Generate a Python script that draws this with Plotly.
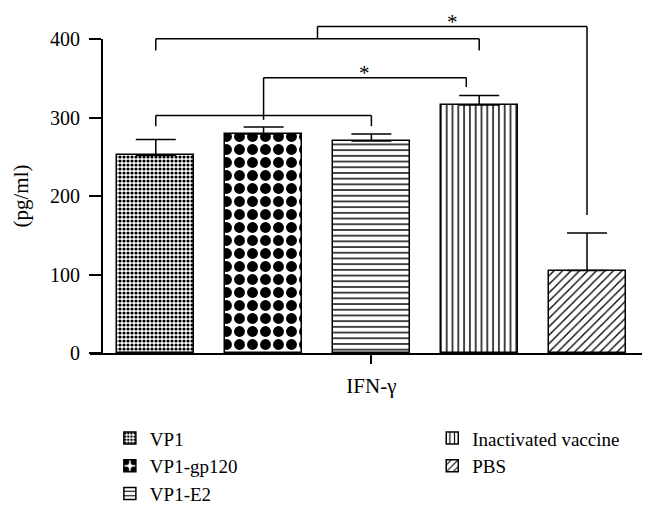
import plotly.graph_objects as go

# ---- data ----
groups = ["VP1", "VP1-gp120", "VP1-E2", "Inactivated vaccine", "PBS"]
values = [252, 279, 270, 316, 105]
errors = [20, 9, 9, 12, 48]
category_label = "IFN-γ"
y_ticks = [0, 100, 200, 300, 400]

# ---- styles ----
patterns = [
    dict(shape=".", size=4, solidity=0.5),
    dict(shape=".", size=13, solidity=0.55),
    dict(shape="-", size=5.7, solidity=0.25),
    dict(shape="|", size=5.8, solidity=0.25),
    dict(shape="/", size=6, solidity=0.22),
]
legend_of = ["legend", "legend", "legend", "legend2", "legend2"]
FONT = "Liberation Serif, Times New Roman, DejaVu Serif, serif"
YMAX = 400

# significance brackets: a group bracket spanning `span` at `base`,
# joined at its middle and carried to `target` at level `top`
brackets = [
    dict(span=(0, 2), base=302.5, leg_end=289, stem_low=297, top=350.7,
         target=2.88, target_end=338.8, label="*"),
    dict(span=(0, 3), base=400.3, leg_end=385.4, stem_low=400.3, top=415.9,
         target=4.0, target_end=175.9, label="*"),
]

fig = go.Figure()
for i, g in enumerate(groups):
    fig.add_trace(go.Bar(
        x=[i], y=[values[i]], name=g, width=0.714,
        marker=dict(color="white", line=dict(color="black", width=1.5),
                    pattern=dict(fgcolor="black", bgcolor="white", fillmode="replace",
                                 fgopacity=1, **patterns[i])),
        error_y=dict(type="data", symmetric=False, array=[errors[i]], arrayminus=[0],
                     color="black", thickness=1.5, width=20),
        legend=legend_of[i],
    ))

line = dict(color="black", width=1.5)
shapes = []
annotations = []
def seg(x0, v0, x1, v1):
    shapes.append(dict(type="line", xref="x", yref="paper", x0=x0, x1=x1,
                       y0=v0 / YMAX, y1=v1 / YMAX, line=line, layer="above"))

for b in brackets:
    a, c = b["span"]
    mid = (a + c) / 2
    seg(a, b["leg_end"], a, b["base"])
    seg(a, b["base"], c, b["base"])
    seg(c, b["base"], c, b["leg_end"])
    seg(mid, b["stem_low"], mid, b["top"])
    seg(mid, b["top"], b["target"], b["top"])
    seg(b["target"], b["top"], b["target"], b["target_end"])
    annotations.append(dict(x=(mid + b["target"]) / 2, xref="x", y=b["top"] / YMAX,
                            yref="paper", yanchor="bottom", text=b["label"],
                            showarrow=False, font=dict(family=FONT, size=21, color="black"),
                            yshift=-9))

black = "black"
fig.update_layout(
    width=648, height=507,
    margin=dict(l=82, r=14, t=30.5, b=161.5, autoexpand=False),
    paper_bgcolor="white", plot_bgcolor="white",
    font=dict(family=FONT, size=21, color=black),
    showlegend=True,
    xaxis=dict(range=[-0.61, 4.51], domain=[0, 1], showline=True, linecolor=black,
               linewidth=1.5, ticks="outside", ticklen=9, tickwidth=1.5,
               tickcolor=black, tickvals=[2], ticktext=[category_label],
               showgrid=False, zeroline=False, ticklabelstandoff=4, automargin=False,
               tickfont=dict(family=FONT, size=21, color=black)),
    yaxis=dict(range=[0, YMAX], anchor="free", position=0.0212, showline=True,
               linecolor=black, linewidth=1.5, ticks="outside", ticklen=12,
               tickwidth=1.5, tickcolor=black, tickvals=y_ticks,
               showgrid=False, zeroline=False, ticklabelstandoff=5, automargin=False,
               tickfont=dict(family=FONT, size=20, color=black),
               title=dict(text="(pg/ml)", font=dict(family=FONT, size=21, color=black),
                          standoff=15)),
    legend=dict(x=0.036, y=-0.211, xanchor="left", yanchor="top",
                font=dict(family=FONT, size=19, color=black), tracegroupgap=0,
                bgcolor="rgba(0,0,0,0)", itemclick=False),
    legend2=dict(x=0.62, y=-0.211, xanchor="left", yanchor="top",
                 font=dict(family=FONT, size=19, color=black), tracegroupgap=0,
                 bgcolor="rgba(0,0,0,0)", itemclick=False),
    shapes=shapes,
    annotations=annotations,
    bargap=0,
)

fig.write_html("out.html")
